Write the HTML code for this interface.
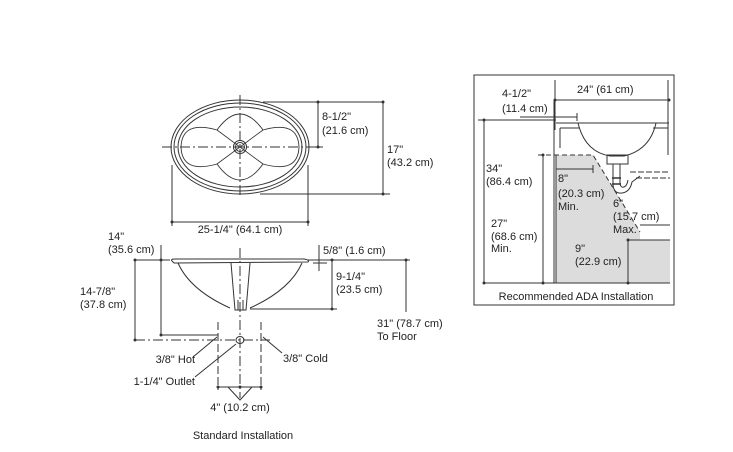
<!DOCTYPE html>
<html><head><meta charset="utf-8"><style>
html,body{margin:0;padding:0;background:#fff}
svg{display:block}
text{font-family:"Liberation Sans",Arial,sans-serif;font-size:11px;fill:#222}
</style></head><body>
<svg width="733" height="452" viewBox="0 0 733 452" xmlns="http://www.w3.org/2000/svg">
<g fill="none" stroke="#333" stroke-width="1">
<!-- top view -->
<ellipse cx="240" cy="147" rx="69" ry="47"/>
<ellipse cx="240" cy="147" rx="66" ry="44"/>
<ellipse cx="240" cy="147" rx="62" ry="40"/>
<path d="M217,130 Q240,98 263,130 M217,164 Q240,196 263,164 M217,130 Q182,120 181,147 Q182,174 217,164 M263,130 Q298,120 299,147 Q298,174 263,164" stroke-width="0.9"/>
<path d="M217,130 L263,164 M263,130 L217,164" stroke-width="0.8"/>
<circle cx="240" cy="147" r="6.5"/><circle cx="240" cy="147" r="4.5"/>
<path d="M162,147 H315" stroke-dasharray="10,3,2,3"/>
<path d="M240,95 V198" stroke-dasharray="10,3,2,3"/>
<path d="M263,102 H383 M260,194 H390 M318,102 V147 M313,147 H323 M383,102 V194"/>
<path d="M172,165 V226 M308,165 V226 M172,222 H308"/>
<!-- side view -->
<path d="M172,261 Q170,259 176,259 L304,259 Q310,260 308,262 L174,263 Z"/>
<path d="M178,263 Q190,290 230,308 M302,263 Q290,290 250,308"/>
<path d="M231,263 L235,310 L246,310 L250,263 M238,300 V310 M243,300 V310 M235,310 H246"/>
<path d="M240,248 V398" stroke-dasharray="10,3,2,3"/>
<path d="M161,245 V335 M135,260 H170 M135,260 V340 M161,335 H218"/>
<path d="M135,340 H270" stroke-dasharray="10,3,2,3"/>
<path d="M218,322 V390 M261,322 V390" stroke-dasharray="8,3"/>
<ellipse cx="240" cy="340" rx="4" ry="3.5"/>
<path d="M218,387 H261 M228,387 L240,400 L252,387"/>
<path d="M217,337 L193,357 M236,344 L195,377 M263,337 L282,353"/>
<path d="M319,245 V271 M313,260 H327 M313,263 H327 M308,260 H410 M250,309 H337 M332,260 V309 M406,260 V312"/>
<!-- ADA box -->
<rect x="474" y="75" width="200" height="230"/>
<polygon points="556,155 593,155 640,232 640,240 670,240 670,283 556,283" fill="#dcdcdc" stroke="none"/>
<path d="M538,155 H593 L640,232" stroke-dasharray="5,3"/>
<path d="M640,225 H670 M628,240 H670 M628,240 V283 M483,283 H670"/>
<path d="M556,155 V283 M543,155 V283 M484,120 V283 M478,120 H556"/>
<path d="M556,169 H593 M556,165 V173 M593,165 V173"/>
<path d="M554,100 V283 M668,80 V155 M555,80 V130 M555,100 H669"/>
<path d="M520,117 H577 M577,113 V121"/>
<path d="M556,123 H669 M560,128 H580 M560,128 V148 M653,128 H668"/>
<path d="M578,123 Q585,152 610,156 L624,156 Q650,150 656,123"/>
<rect x="607" y="155" width="21" height="9"/>
<path d="M613,164 V185 Q614,194 622,193 Q630,192 632,182 L640,176 M620,164 V184 Q621,188 624,187 Q627,186 628,180"/>
<path d="M630,172 H670 M636,178 H670" stroke-dasharray="6,2"/>
<path d="M612,178 H621 M612,184 H621" stroke-width="1.5"/>
</g>
<g fill="#333">
<circle cx="318" cy="102" r="1.5"/><circle cx="318" cy="147" r="1.5"/><circle cx="383" cy="102" r="1.5"/><circle cx="383" cy="194" r="1.5"/>
<circle cx="172" cy="222" r="1.5"/><circle cx="308" cy="222" r="1.5"/>
<circle cx="161" cy="260" r="1.5"/><circle cx="161" cy="335" r="1.5"/><circle cx="135" cy="260" r="1.5"/><circle cx="135" cy="340" r="1.5"/>
<circle cx="218" cy="387" r="1.5"/><circle cx="261" cy="387" r="1.5"/><circle cx="240" cy="387" r="1.5"/>
<circle cx="332" cy="260" r="1.5"/><circle cx="332" cy="309" r="1.5"/><circle cx="406" cy="260" r="1.5"/>
<circle cx="484" cy="120" r="1.5"/><circle cx="484" cy="283" r="1.5"/><circle cx="543" cy="155" r="1.5"/><circle cx="543" cy="283" r="1.5"/>
<circle cx="555" cy="100" r="1.5"/><circle cx="669" cy="100" r="1.5"/><circle cx="628" cy="240" r="1.5"/><circle cx="628" cy="283" r="1.5"/>
</g>
<text x="322" y="120">8-1/2"</text><text x="322" y="134">(21.6 cm)</text>
<text x="387" y="153">17"</text><text x="387" y="166">(43.2 cm)</text>
<text x="240" y="233" text-anchor="middle">25-1/4" (64.1 cm)</text>
<text x="108" y="240">14"</text><text x="108" y="253">(35.6 cm)</text>
<text x="80" y="295">14-7/8"</text><text x="80" y="308">(37.8 cm)</text>
<text x="323" y="254">5/8" (1.6 cm)</text>
<text x="336" y="280">9-1/4"</text><text x="336" y="293">(23.5 cm)</text>
<text x="377" y="327">31" (78.7 cm)</text><text x="377" y="340">To Floor</text>
<text x="195" y="363" text-anchor="end">3/8" Hot</text>
<text x="195" y="385" text-anchor="end">1-1/4" Outlet</text>
<text x="283" y="362">3/8" Cold</text>
<text x="240" y="411" text-anchor="middle">4" (10.2 cm)</text>
<text x="243" y="439" text-anchor="middle">Standard Installation</text>
<text x="502" y="97">4-1/2"</text><text x="502" y="112">(11.4 cm)</text>
<text x="577" y="93">24" (61 cm)</text>
<text x="486" y="172">34"</text><text x="486" y="185">(86.4 cm)</text>
<text x="491" y="227">27"</text><text x="491" y="240">(68.6 cm)</text><text x="491" y="252">Min.</text>
<text x="558" y="182">8"</text><text x="558" y="197">(20.3 cm)</text><text x="558" y="210">Min.</text>
<text x="613" y="207">6"</text><text x="613" y="220">(15.7 cm)</text><text x="613" y="233">Max.</text>
<text x="575" y="252">9"</text><text x="575" y="265">(22.9 cm)</text>
<text x="576" y="300" text-anchor="middle">Recommended ADA Installation</text>
</svg>
</body></html>
